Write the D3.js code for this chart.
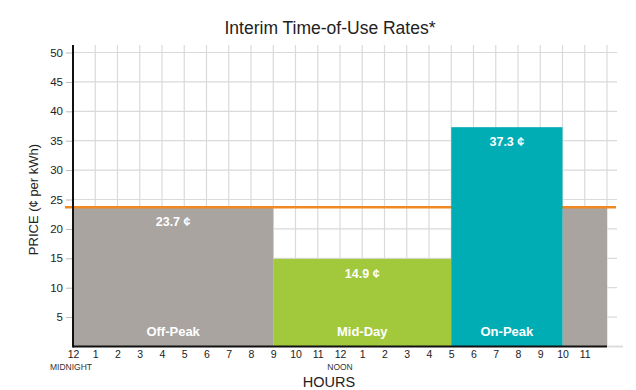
<!DOCTYPE html>
<html>
<head>
<meta charset="utf-8">
<script src="https://cdn.jsdelivr.net/npm/d3@7"></script>
<style>
  body { margin: 0; background: #fff; }
  svg { display: block; font-family: "Liberation Sans", Arial, Helvetica, sans-serif; }
</style>
</head>
<body>
<svg class="chart" width="636" height="390"></svg>
<script>
// rate periods over one day (hours 0-24)
var periodNames = ["Off-Peak", "Mid-Day", "On-Peak", "Off-Peak"];
var periodStart = [0, 9, 17, 22];
var periodEnd = [9, 17, 22, 24];
var periodPrice = [23.7, 14.9, 37.3, 23.7];
var periodLabelled = [true, true, true, false];

var hourLabels = ["12", "1", "2", "3", "4", "5", "6", "7", "8", "9", "10", "11",
                  "12", "1", "2", "3", "4", "5", "6", "7", "8", "9", "10", "11"];
var hourNotes = {0: "MIDNIGHT", 12: "NOON"};
var priceTicks = [5, 10, 15, 20, 25, 30, 35, 40, 45, 50];
var flatRate = 23.7;

var colors = {
    "Off-Peak": "#a9a4a0",
    "Mid-Day": "#a2c83c",
    "On-Peak": "#00adb5"
};

var margin = {top: 45, right: 29, bottom: 43, left: 73};
var width = 636 - margin.left - margin.right;   // 534
var height = 390 - margin.top - margin.bottom;  // 302

var x = d3.scaleLinear()
          .domain([0, 24])
          .range([0, width]);

var y = d3.scaleLinear()
          .domain([0, 50])
          .range([height - 0.5, 7.5]);

var chart = d3.select('.chart');

chart.append('text')
    .attr('x', 330)
    .attr('y', 34)
    .attr('text-anchor', 'middle')
    .style('font-size', '17.5px')
    .style('fill', '#222')
    .text('Interim Time-of-Use Rates*');

var main = chart.append('g')
    .attr('transform', 'translate(' + margin.left + ',' + margin.top + ')');

// grid
main.append('g').selectAll('line')
    .data(priceTicks)
    .enter().append('line')
    .attr('x1', 0)
    .attr('x2', width + 10)
    .attr('y1', function(d) { return y(d); })
    .attr('y2', function(d) { return y(d); })
    .style('stroke', '#dadadc')
    .style('stroke-width', 1.2);

main.append('g').selectAll('line')
    .data(d3.range(1, 25))
    .enter().append('line')
    .attr('x1', function(d) { return x(d); })
    .attr('x2', function(d) { return x(d); })
    .attr('y1', 0)
    .attr('y2', y(0))
    .style('stroke', '#dadadc')
    .style('stroke-width', 1.2);

var idx = periodNames.map(function(d, i) { return i; });

function drawBars(sel) {
    sel.enter().append('rect')
        .attr('x', function(i) { return x(periodStart[i]); })
        .attr('width', function(i) { return x(periodEnd[i]) - x(periodStart[i]); })
        .attr('y', function(i) { return y(periodPrice[i]); })
        .attr('height', function(i) { return y(0) - y(periodPrice[i]); })
        .style('fill', function(i) { return colors[periodNames[i]]; });
}

// bars at or below the flat rate sit under the orange line, taller ones cover it
main.append('g').selectAll('rect')
    .data(idx.filter(function(i) { return periodPrice[i] <= flatRate; }))
    .call(drawBars);

main.append('line')
    .attr('x1', -8)
    .attr('x2', width + 9)
    .attr('y1', y(flatRate))
    .attr('y2', y(flatRate))
    .style('stroke', '#ef8a22')
    .style('stroke-width', 2.5);

main.append('g').selectAll('rect')
    .data(idx.filter(function(i) { return periodPrice[i] > flatRate; }))
    .call(drawBars);

// bar labels
var labelled = idx.filter(function(i) { return periodLabelled[i]; });

main.append('g').selectAll('text')
    .data(labelled)
    .enter().append('text')
    .attr('x', function(i) { return x((periodStart[i] + periodEnd[i]) / 2); })
    .attr('y', function(i) { return y(periodPrice[i]) + 19; })
    .attr('text-anchor', 'middle')
    .style('fill', '#fff')
    .style('font-size', '12.5px')
    .style('font-weight', 'bold')
    .text(function(i) { return periodPrice[i] + ' \u00a2'; });

main.append('g').selectAll('text')
    .data(labelled)
    .enter().append('text')
    .attr('x', function(i) { return x((periodStart[i] + periodEnd[i]) / 2); })
    .attr('y', y(0) - 11)
    .attr('text-anchor', 'middle')
    .style('fill', '#fff')
    .style('font-size', '13px')
    .style('font-weight', 'bold')
    .text(function(i) { return periodNames[i]; });

// y axis
var yAxis = d3.axisLeft(y)
    .tickValues(priceTicks)
    .tickSize(7)
    .tickPadding(3);

var yg = main.append('g').call(yAxis);
yg.select('.domain').remove();
yg.selectAll('.tick line').style('stroke', '#bbb');
yg.selectAll('.tick text')
    .style('font-size', '11.5px')
    .style('fill', '#222')
    .style('font-family', '"Liberation Sans", Arial, sans-serif');

main.append('line')
    .attr('x1', 0).attr('x2', 0)
    .attr('y1', 0).attr('y2', y(0) + 1)
    .style('stroke', '#111')
    .style('stroke-width', 2);

// x axis
var xAxis = d3.axisBottom(x)
    .tickValues(d3.range(0, 24))
    .tickFormat(function(d) { return hourLabels[d]; })
    .tickSize(0)
    .tickPadding(4);

var xg = main.append('g')
    .attr('transform', 'translate(0,' + y(0) + ')')
    .call(xAxis);
xg.select('.domain').remove();
xg.selectAll('.tick text')
    .style('font-size', '10.5px')
    .style('fill', '#222')
    .style('font-family', '"Liberation Sans", Arial, sans-serif');

main.append('line')
    .attr('x1', x(24)).attr('x2', x(24) + 16)
    .attr('y1', y(0)).attr('y2', y(0))
    .style('stroke', '#ddd')
    .style('stroke-width', 2);

main.append('line')
    .attr('x1', 0).attr('x2', x(24))
    .attr('y1', y(0)).attr('y2', y(0))
    .style('stroke', '#111')
    .style('stroke-width', 2);

main.append('g').selectAll('text')
    .data(Object.keys(hourNotes))
    .enter().append('text')
    .attr('x', function(d) { return x(+d) + (+d === 0 ? -2 : 0); })
    .attr('y', y(0) + 23)
    .attr('text-anchor', 'middle')
    .style('font-size', '8.5px')
    .style('fill', '#333')
    .text(function(d) { return hourNotes[d]; });

// axis titles
main.append('text')
    .attr('x', x(11.5))
    .attr('y', y(0) + 40)
    .attr('text-anchor', 'middle')
    .style('font-size', '14.5px')
    .style('fill', '#222')
    .text('HOURS');

main.append('text')
    .attr('transform', 'translate(-35,' + y(25) + ') rotate(-90)')
    .attr('text-anchor', 'middle')
    .style('font-size', '13px')
    .style('fill', '#222')
    .text('PRICE (\u00a2 per kWh)');
</script>
</body>
</html>
